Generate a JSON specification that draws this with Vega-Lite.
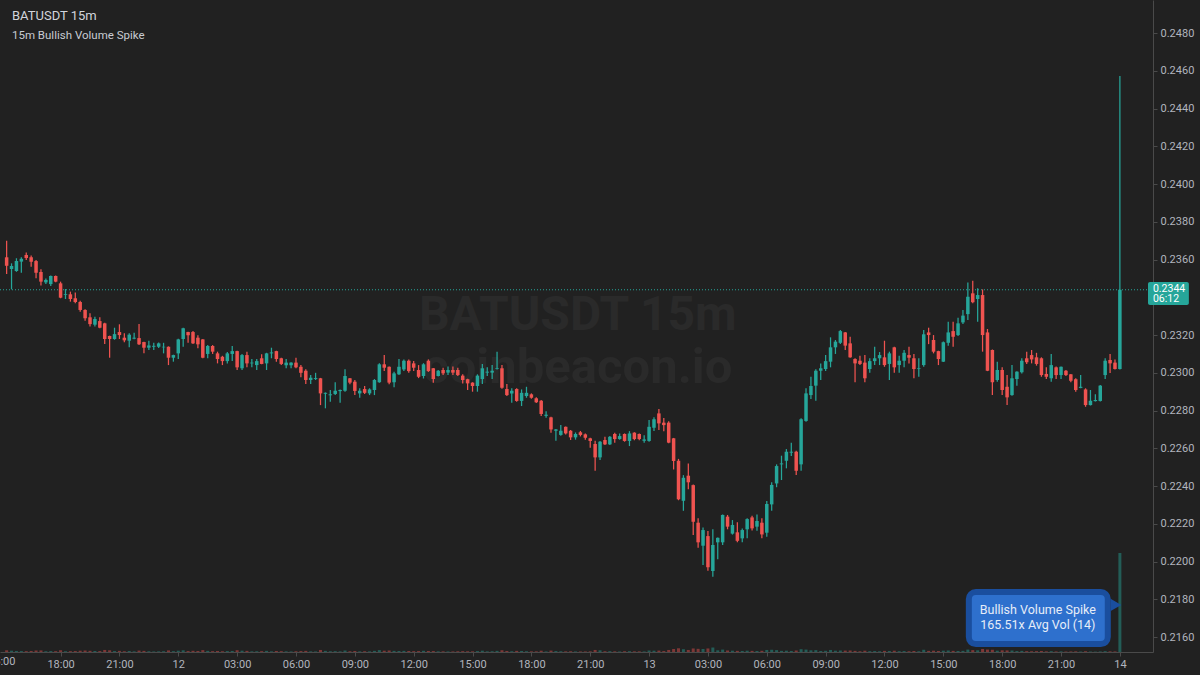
{
"$schema":"https://vega.github.io/schema/vega-lite/v6.json",
"width":1153,"height":652,
"autosize":{"type":"none"},
"padding":{"left":0,"top":0,"right":47,"bottom":23},
"background":"#212121",
"config":{"view":{"stroke":null},"font":"Roboto","axis":{"labelFont":"Roboto","labelColor":"#b2b5be","labelFontSize":11,"domainColor":"#4a4a4a","tickColor":"#4a4a4a","grid":false}},
"datasets":{"k":[
{"t":"2024-03-11T15:15Z","o":0.23612,"h":0.23700,"l":0.23523,"c":0.23567,"v":90},
{"t":"2024-03-11T15:30Z","o":0.23550,"h":0.23580,"l":0.23442,"c":0.23566,"v":70},
{"t":"2024-03-11T15:45Z","o":0.23540,"h":0.23607,"l":0.23535,"c":0.23592,"v":60},
{"t":"2024-03-11T16:00Z","o":0.23589,"h":0.23612,"l":0.23530,"c":0.23604,"v":50},
{"t":"2024-03-11T16:15Z","o":0.23624,"h":0.23638,"l":0.23598,"c":0.23608,"v":45},
{"t":"2024-03-11T16:30Z","o":0.23612,"h":0.23622,"l":0.23562,"c":0.23589,"v":55},
{"t":"2024-03-11T16:45Z","o":0.23592,"h":0.23598,"l":0.23501,"c":0.23530,"v":80},
{"t":"2024-03-11T17:00Z","o":0.23534,"h":0.23548,"l":0.23462,"c":0.23483,"v":85},
{"t":"2024-03-11T17:15Z","o":0.23479,"h":0.23499,"l":0.23470,"c":0.23492,"v":40},
{"t":"2024-03-11T17:30Z","o":0.23470,"h":0.23515,"l":0.23460,"c":0.23513,"v":50},
{"t":"2024-03-11T17:45Z","o":0.23513,"h":0.23515,"l":0.23480,"c":0.23483,"v":45},
{"t":"2024-03-11T18:00Z","o":0.23474,"h":0.23483,"l":0.23395,"c":0.23398,"v":95},
{"t":"2024-03-11T18:15Z","o":0.23413,"h":0.23444,"l":0.23391,"c":0.23417,"v":40},
{"t":"2024-03-11T18:30Z","o":0.23416,"h":0.23430,"l":0.23377,"c":0.23391,"v":45},
{"t":"2024-03-11T18:45Z","o":0.23395,"h":0.23426,"l":0.23368,"c":0.23375,"v":50},
{"t":"2024-03-11T19:00Z","o":0.23375,"h":0.23382,"l":0.23324,"c":0.23333,"v":70},
{"t":"2024-03-11T19:15Z","o":0.23333,"h":0.23337,"l":0.23276,"c":0.23289,"v":80},
{"t":"2024-03-11T19:30Z","o":0.23294,"h":0.23315,"l":0.23245,"c":0.23258,"v":65},
{"t":"2024-03-11T19:45Z","o":0.23255,"h":0.23297,"l":0.23245,"c":0.23285,"v":55},
{"t":"2024-03-11T20:00Z","o":0.23274,"h":0.23294,"l":0.23236,"c":0.23239,"v":50},
{"t":"2024-03-11T20:15Z","o":0.23262,"h":0.23265,"l":0.23152,"c":0.23179,"v":110},
{"t":"2024-03-11T20:30Z","o":0.23195,"h":0.23197,"l":0.23080,"c":0.23179,"v":90},
{"t":"2024-03-11T20:45Z","o":0.23179,"h":0.23239,"l":0.23175,"c":0.23205,"v":50},
{"t":"2024-03-11T21:00Z","o":0.23216,"h":0.23257,"l":0.23179,"c":0.23200,"v":60},
{"t":"2024-03-11T21:15Z","o":0.23186,"h":0.23209,"l":0.23162,"c":0.23172,"v":40},
{"t":"2024-03-11T21:30Z","o":0.23170,"h":0.23209,"l":0.23135,"c":0.23202,"v":55},
{"t":"2024-03-11T21:45Z","o":0.23181,"h":0.23212,"l":0.23178,"c":0.23186,"v":35},
{"t":"2024-03-11T22:00Z","o":0.23184,"h":0.23259,"l":0.23147,"c":0.23151,"v":75},
{"t":"2024-03-11T22:15Z","o":0.23163,"h":0.23165,"l":0.23103,"c":0.23133,"v":60},
{"t":"2024-03-11T22:30Z","o":0.23133,"h":0.23170,"l":0.23121,"c":0.23145,"v":40},
{"t":"2024-03-11T22:45Z","o":0.23138,"h":0.23159,"l":0.23121,"c":0.23143,"v":30},
{"t":"2024-03-11T23:00Z","o":0.23138,"h":0.23161,"l":0.23131,"c":0.23156,"v":35},
{"t":"2024-03-11T23:15Z","o":0.23135,"h":0.23159,"l":0.23103,"c":0.23138,"v":40},
{"t":"2024-03-11T23:30Z","o":0.23138,"h":0.23140,"l":0.23041,"c":0.23080,"v":85},
{"t":"2024-03-11T23:45Z","o":0.23080,"h":0.23096,"l":0.23059,"c":0.23094,"v":45},
{"t":"2024-03-12T00:00Z","o":0.23103,"h":0.23180,"l":0.23073,"c":0.23177,"v":70},
{"t":"2024-03-12T00:15Z","o":0.23179,"h":0.23239,"l":0.23138,"c":0.23236,"v":90},
{"t":"2024-03-12T00:30Z","o":0.23216,"h":0.23218,"l":0.23159,"c":0.23199,"v":50},
{"t":"2024-03-12T00:45Z","o":0.23216,"h":0.23221,"l":0.23152,"c":0.23156,"v":65},
{"t":"2024-03-12T01:00Z","o":0.23186,"h":0.23199,"l":0.23130,"c":0.23151,"v":55},
{"t":"2024-03-12T01:15Z","o":0.23177,"h":0.23179,"l":0.23077,"c":0.23080,"v":100},
{"t":"2024-03-12T01:30Z","o":0.23100,"h":0.23147,"l":0.23077,"c":0.23142,"v":60},
{"t":"2024-03-12T01:45Z","o":0.23142,"h":0.23147,"l":0.23100,"c":0.23112,"v":45},
{"t":"2024-03-12T02:00Z","o":0.23103,"h":0.23112,"l":0.23050,"c":0.23073,"v":55},
{"t":"2024-03-12T02:15Z","o":0.23085,"h":0.23090,"l":0.23041,"c":0.23062,"v":40},
{"t":"2024-03-12T02:30Z","o":0.23062,"h":0.23110,"l":0.23050,"c":0.23103,"v":50},
{"t":"2024-03-12T02:45Z","o":0.23100,"h":0.23142,"l":0.23062,"c":0.23115,"v":55},
{"t":"2024-03-12T03:00Z","o":0.23115,"h":0.23117,"l":0.23015,"c":0.23029,"v":95},
{"t":"2024-03-12T03:15Z","o":0.23024,"h":0.23100,"l":0.23015,"c":0.23094,"v":70},
{"t":"2024-03-12T03:30Z","o":0.23094,"h":0.23112,"l":0.23029,"c":0.23050,"v":60},
{"t":"2024-03-12T03:45Z","o":0.23050,"h":0.23073,"l":0.23029,"c":0.23054,"v":35},
{"t":"2024-03-12T04:00Z","o":0.23041,"h":0.23073,"l":0.23015,"c":0.23062,"v":40},
{"t":"2024-03-12T04:15Z","o":0.23077,"h":0.23098,"l":0.23045,"c":0.23047,"v":45},
{"t":"2024-03-12T04:30Z","o":0.23050,"h":0.23106,"l":0.23015,"c":0.23103,"v":60},
{"t":"2024-03-12T04:45Z","o":0.23103,"h":0.23133,"l":0.23077,"c":0.23108,"v":35},
{"t":"2024-03-12T05:00Z","o":0.23115,"h":0.23117,"l":0.23059,"c":0.23073,"v":55},
{"t":"2024-03-12T05:15Z","o":0.23077,"h":0.23080,"l":0.23041,"c":0.23047,"v":45},
{"t":"2024-03-12T05:30Z","o":0.23040,"h":0.23073,"l":0.23024,"c":0.23054,"v":35},
{"t":"2024-03-12T05:45Z","o":0.23040,"h":0.23056,"l":0.23024,"c":0.23054,"v":30},
{"t":"2024-03-12T06:00Z","o":0.23054,"h":0.23080,"l":0.23024,"c":0.23029,"v":40},
{"t":"2024-03-12T06:15Z","o":0.23032,"h":0.23041,"l":0.22976,"c":0.23000,"v":50},
{"t":"2024-03-12T06:30Z","o":0.23011,"h":0.23019,"l":0.22941,"c":0.22962,"v":60},
{"t":"2024-03-12T06:45Z","o":0.22962,"h":0.22988,"l":0.22941,"c":0.22974,"v":35},
{"t":"2024-03-12T07:00Z","o":0.22967,"h":0.23000,"l":0.22962,"c":0.22972,"v":30},
{"t":"2024-03-12T07:15Z","o":0.22971,"h":0.22973,"l":0.22829,"c":0.22891,"v":110},
{"t":"2024-03-12T07:30Z","o":0.22889,"h":0.22896,"l":0.22812,"c":0.22894,"v":60},
{"t":"2024-03-12T07:45Z","o":0.22881,"h":0.22909,"l":0.22847,"c":0.22886,"v":40},
{"t":"2024-03-12T08:00Z","o":0.22888,"h":0.22950,"l":0.22882,"c":0.22905,"v":45},
{"t":"2024-03-12T08:15Z","o":0.22903,"h":0.22911,"l":0.22842,"c":0.22909,"v":35},
{"t":"2024-03-12T08:30Z","o":0.22905,"h":0.23019,"l":0.22900,"c":0.22983,"v":80},
{"t":"2024-03-12T08:45Z","o":0.22971,"h":0.22973,"l":0.22940,"c":0.22948,"v":40},
{"t":"2024-03-12T09:00Z","o":0.22953,"h":0.22962,"l":0.22882,"c":0.22904,"v":55},
{"t":"2024-03-12T09:15Z","o":0.22891,"h":0.22918,"l":0.22868,"c":0.22905,"v":35},
{"t":"2024-03-12T09:30Z","o":0.22914,"h":0.22930,"l":0.22888,"c":0.22894,"v":40},
{"t":"2024-03-12T09:45Z","o":0.22891,"h":0.22918,"l":0.22882,"c":0.22912,"v":35},
{"t":"2024-03-12T10:00Z","o":0.22909,"h":0.22967,"l":0.22882,"c":0.22962,"v":60},
{"t":"2024-03-12T10:15Z","o":0.22950,"h":0.23051,"l":0.22947,"c":0.23045,"v":100},
{"t":"2024-03-12T10:30Z","o":0.23045,"h":0.23094,"l":0.23009,"c":0.23027,"v":70},
{"t":"2024-03-12T10:45Z","o":0.23032,"h":0.23034,"l":0.22940,"c":0.22948,"v":80},
{"t":"2024-03-12T11:00Z","o":0.22950,"h":0.23006,"l":0.22923,"c":0.22997,"v":60},
{"t":"2024-03-12T11:15Z","o":0.22992,"h":0.23073,"l":0.22988,"c":0.23032,"v":55},
{"t":"2024-03-12T11:30Z","o":0.23018,"h":0.23070,"l":0.23009,"c":0.23064,"v":60},
{"t":"2024-03-12T11:45Z","o":0.23064,"h":0.23071,"l":0.23000,"c":0.23009,"v":55},
{"t":"2024-03-12T12:00Z","o":0.23050,"h":0.23062,"l":0.23009,"c":0.23027,"v":45},
{"t":"2024-03-12T12:15Z","o":0.23015,"h":0.23041,"l":0.22972,"c":0.22979,"v":50},
{"t":"2024-03-12T12:30Z","o":0.22983,"h":0.23051,"l":0.22970,"c":0.23045,"v":65},
{"t":"2024-03-12T12:45Z","o":0.23064,"h":0.23071,"l":0.23005,"c":0.23009,"v":55},
{"t":"2024-03-12T13:00Z","o":0.23024,"h":0.23026,"l":0.22948,"c":0.22967,"v":50},
{"t":"2024-03-12T13:15Z","o":0.22983,"h":0.23015,"l":0.22980,"c":0.23011,"v":35},
{"t":"2024-03-12T13:30Z","o":0.23015,"h":0.23027,"l":0.22988,"c":0.22997,"v":35},
{"t":"2024-03-12T13:45Z","o":0.23001,"h":0.23033,"l":0.22988,"c":0.23015,"v":30},
{"t":"2024-03-12T14:00Z","o":0.23015,"h":0.23033,"l":0.22988,"c":0.23001,"v":30},
{"t":"2024-03-12T14:15Z","o":0.23015,"h":0.23027,"l":0.22983,"c":0.22988,"v":40},
{"t":"2024-03-12T14:30Z","o":0.22985,"h":0.22992,"l":0.22944,"c":0.22962,"v":45},
{"t":"2024-03-12T14:45Z","o":0.22966,"h":0.22968,"l":0.22909,"c":0.22944,"v":40},
{"t":"2024-03-12T15:00Z","o":0.22948,"h":0.22950,"l":0.22900,"c":0.22930,"v":35},
{"t":"2024-03-12T15:15Z","o":0.22930,"h":0.22992,"l":0.22900,"c":0.22985,"v":50},
{"t":"2024-03-12T15:30Z","o":0.22967,"h":0.23047,"l":0.22941,"c":0.23024,"v":70},
{"t":"2024-03-12T15:45Z","o":0.23001,"h":0.23030,"l":0.22983,"c":0.23006,"v":35},
{"t":"2024-03-12T16:00Z","o":0.23001,"h":0.23041,"l":0.22967,"c":0.23011,"v":40},
{"t":"2024-03-12T16:15Z","o":0.23020,"h":0.23112,"l":0.23018,"c":0.23024,"v":60},
{"t":"2024-03-12T16:30Z","o":0.23024,"h":0.23041,"l":0.22915,"c":0.22921,"v":95},
{"t":"2024-03-12T16:45Z","o":0.22914,"h":0.22941,"l":0.22877,"c":0.22882,"v":55},
{"t":"2024-03-12T17:00Z","o":0.22891,"h":0.22918,"l":0.22842,"c":0.22905,"v":45},
{"t":"2024-03-12T17:15Z","o":0.22914,"h":0.22918,"l":0.22847,"c":0.22851,"v":60},
{"t":"2024-03-12T17:30Z","o":0.22851,"h":0.22912,"l":0.22824,"c":0.22894,"v":55},
{"t":"2024-03-12T17:45Z","o":0.22877,"h":0.22926,"l":0.22868,"c":0.22894,"v":40},
{"t":"2024-03-12T18:00Z","o":0.22886,"h":0.22891,"l":0.22863,"c":0.22868,"v":35},
{"t":"2024-03-12T18:15Z","o":0.22865,"h":0.22870,"l":0.22840,"c":0.22844,"v":35},
{"t":"2024-03-12T18:30Z","o":0.22852,"h":0.22856,"l":0.22771,"c":0.22782,"v":70},
{"t":"2024-03-12T18:45Z","o":0.22772,"h":0.22796,"l":0.22762,"c":0.22778,"v":30},
{"t":"2024-03-12T19:00Z","o":0.22764,"h":0.22767,"l":0.22683,"c":0.22700,"v":75},
{"t":"2024-03-12T19:15Z","o":0.22693,"h":0.22702,"l":0.22640,"c":0.22700,"v":50},
{"t":"2024-03-12T19:30Z","o":0.22671,"h":0.22723,"l":0.22667,"c":0.22693,"v":40},
{"t":"2024-03-12T19:45Z","o":0.22714,"h":0.22716,"l":0.22673,"c":0.22679,"v":35},
{"t":"2024-03-12T20:00Z","o":0.22693,"h":0.22697,"l":0.22644,"c":0.22658,"v":40},
{"t":"2024-03-12T20:15Z","o":0.22658,"h":0.22684,"l":0.22646,"c":0.22676,"v":30},
{"t":"2024-03-12T20:30Z","o":0.22685,"h":0.22692,"l":0.22663,"c":0.22671,"v":30},
{"t":"2024-03-12T20:45Z","o":0.22674,"h":0.22679,"l":0.22646,"c":0.22656,"v":30},
{"t":"2024-03-12T21:00Z","o":0.22653,"h":0.22656,"l":0.22603,"c":0.22639,"v":35},
{"t":"2024-03-12T21:15Z","o":0.22623,"h":0.22640,"l":0.22481,"c":0.22552,"v":110},
{"t":"2024-03-12T21:30Z","o":0.22552,"h":0.22639,"l":0.22538,"c":0.22635,"v":90},
{"t":"2024-03-12T21:45Z","o":0.22644,"h":0.22661,"l":0.22617,"c":0.22621,"v":40},
{"t":"2024-03-12T22:00Z","o":0.22621,"h":0.22665,"l":0.22617,"c":0.22661,"v":45},
{"t":"2024-03-12T22:15Z","o":0.22676,"h":0.22683,"l":0.22630,"c":0.22649,"v":35},
{"t":"2024-03-12T22:30Z","o":0.22649,"h":0.22679,"l":0.22646,"c":0.22665,"v":30},
{"t":"2024-03-12T22:45Z","o":0.22676,"h":0.22679,"l":0.22635,"c":0.22639,"v":40},
{"t":"2024-03-12T23:00Z","o":0.22639,"h":0.22691,"l":0.22612,"c":0.22679,"v":45},
{"t":"2024-03-12T23:15Z","o":0.22683,"h":0.22685,"l":0.22643,"c":0.22649,"v":35},
{"t":"2024-03-12T23:30Z","o":0.22676,"h":0.22679,"l":0.22643,"c":0.22649,"v":35},
{"t":"2024-03-12T23:45Z","o":0.22640,"h":0.22669,"l":0.22630,"c":0.22647,"v":30},
{"t":"2024-03-13T00:00Z","o":0.22639,"h":0.22750,"l":0.22635,"c":0.22714,"v":80},
{"t":"2024-03-13T00:15Z","o":0.22709,"h":0.22764,"l":0.22692,"c":0.22754,"v":70},
{"t":"2024-03-13T00:30Z","o":0.22785,"h":0.22808,"l":0.22697,"c":0.22732,"v":75},
{"t":"2024-03-13T00:45Z","o":0.22736,"h":0.22760,"l":0.22690,"c":0.22723,"v":50},
{"t":"2024-03-13T01:00Z","o":0.22736,"h":0.22743,"l":0.22627,"c":0.22630,"v":110},
{"t":"2024-03-13T01:15Z","o":0.22653,"h":0.22655,"l":0.22488,"c":0.22533,"v":160},
{"t":"2024-03-13T01:30Z","o":0.22534,"h":0.22544,"l":0.22325,"c":0.22330,"v":200},
{"t":"2024-03-13T01:45Z","o":0.22322,"h":0.22458,"l":0.22269,"c":0.22444,"v":150},
{"t":"2024-03-13T02:00Z","o":0.22455,"h":0.22520,"l":0.22383,"c":0.22420,"v":110},
{"t":"2024-03-13T02:15Z","o":0.22405,"h":0.22409,"l":0.22141,"c":0.22211,"v":190},
{"t":"2024-03-13T02:30Z","o":0.22206,"h":0.22229,"l":0.22073,"c":0.22102,"v":170},
{"t":"2024-03-13T02:45Z","o":0.22084,"h":0.22181,"l":0.21982,"c":0.22167,"v":160},
{"t":"2024-03-13T03:00Z","o":0.22135,"h":0.22162,"l":0.21951,"c":0.21970,"v":190},
{"t":"2024-03-13T03:15Z","o":0.21950,"h":0.22171,"l":0.21920,"c":0.22088,"v":240},
{"t":"2024-03-13T03:30Z","o":0.22102,"h":0.22128,"l":0.22012,"c":0.22126,"v":90},
{"t":"2024-03-13T03:45Z","o":0.22102,"h":0.22249,"l":0.22088,"c":0.22247,"v":130},
{"t":"2024-03-13T04:00Z","o":0.22238,"h":0.22247,"l":0.22171,"c":0.22185,"v":80},
{"t":"2024-03-13T04:15Z","o":0.22148,"h":0.22220,"l":0.22143,"c":0.22194,"v":70},
{"t":"2024-03-13T04:30Z","o":0.22155,"h":0.22208,"l":0.22102,"c":0.22110,"v":60},
{"t":"2024-03-13T04:45Z","o":0.22123,"h":0.22175,"l":0.22102,"c":0.22167,"v":55},
{"t":"2024-03-13T05:00Z","o":0.22171,"h":0.22229,"l":0.22123,"c":0.22225,"v":70},
{"t":"2024-03-13T05:15Z","o":0.22234,"h":0.22243,"l":0.22164,"c":0.22176,"v":60},
{"t":"2024-03-13T05:30Z","o":0.22185,"h":0.22250,"l":0.22163,"c":0.22215,"v":55},
{"t":"2024-03-13T05:45Z","o":0.22206,"h":0.22229,"l":0.22123,"c":0.22144,"v":65},
{"t":"2024-03-13T06:00Z","o":0.22153,"h":0.22321,"l":0.22132,"c":0.22305,"v":110},
{"t":"2024-03-13T06:15Z","o":0.22303,"h":0.22420,"l":0.22269,"c":0.22406,"v":120},
{"t":"2024-03-13T06:30Z","o":0.22414,"h":0.22515,"l":0.22394,"c":0.22506,"v":100},
{"t":"2024-03-13T06:45Z","o":0.22515,"h":0.22561,"l":0.22432,"c":0.22520,"v":60},
{"t":"2024-03-13T07:00Z","o":0.22534,"h":0.22596,"l":0.22494,"c":0.22582,"v":70},
{"t":"2024-03-13T07:15Z","o":0.22577,"h":0.22630,"l":0.22559,"c":0.22582,"v":55},
{"t":"2024-03-13T07:30Z","o":0.22582,"h":0.22587,"l":0.22459,"c":0.22481,"v":80},
{"t":"2024-03-13T07:45Z","o":0.22515,"h":0.22759,"l":0.22481,"c":0.22754,"v":150},
{"t":"2024-03-13T08:00Z","o":0.22745,"h":0.22918,"l":0.22741,"c":0.22891,"v":130},
{"t":"2024-03-13T08:15Z","o":0.22882,"h":0.22979,"l":0.22861,"c":0.22930,"v":90},
{"t":"2024-03-13T08:30Z","o":0.22932,"h":0.23019,"l":0.22852,"c":0.23011,"v":100},
{"t":"2024-03-13T08:45Z","o":0.23011,"h":0.23050,"l":0.22962,"c":0.23024,"v":55},
{"t":"2024-03-13T09:00Z","o":0.23020,"h":0.23094,"l":0.23009,"c":0.23062,"v":65},
{"t":"2024-03-13T09:15Z","o":0.23059,"h":0.23188,"l":0.23029,"c":0.23135,"v":110},
{"t":"2024-03-13T09:30Z","o":0.23135,"h":0.23174,"l":0.23100,"c":0.23165,"v":70},
{"t":"2024-03-13T09:45Z","o":0.23159,"h":0.23227,"l":0.23152,"c":0.23221,"v":80},
{"t":"2024-03-13T10:00Z","o":0.23214,"h":0.23216,"l":0.23121,"c":0.23144,"v":75},
{"t":"2024-03-13T10:15Z","o":0.23156,"h":0.23191,"l":0.23080,"c":0.23082,"v":80},
{"t":"2024-03-13T10:30Z","o":0.23073,"h":0.23077,"l":0.22950,"c":0.23050,"v":60},
{"t":"2024-03-13T10:45Z","o":0.23064,"h":0.23091,"l":0.23041,"c":0.23047,"v":40},
{"t":"2024-03-13T11:00Z","o":0.23054,"h":0.23094,"l":0.22950,"c":0.22971,"v":70},
{"t":"2024-03-13T11:15Z","o":0.23020,"h":0.23077,"l":0.23000,"c":0.23062,"v":45},
{"t":"2024-03-13T11:30Z","o":0.23062,"h":0.23138,"l":0.23041,"c":0.23077,"v":50},
{"t":"2024-03-13T11:45Z","o":0.23077,"h":0.23110,"l":0.23041,"c":0.23094,"v":40},
{"t":"2024-03-13T12:00Z","o":0.23082,"h":0.23170,"l":0.23032,"c":0.23041,"v":60},
{"t":"2024-03-13T12:15Z","o":0.23047,"h":0.23112,"l":0.22962,"c":0.23103,"v":55},
{"t":"2024-03-13T12:30Z","o":0.23135,"h":0.23138,"l":0.23001,"c":0.23029,"v":70},
{"t":"2024-03-13T12:45Z","o":0.23041,"h":0.23091,"l":0.23001,"c":0.23064,"v":45},
{"t":"2024-03-13T13:00Z","o":0.23064,"h":0.23121,"l":0.23029,"c":0.23106,"v":50},
{"t":"2024-03-13T13:15Z","o":0.23094,"h":0.23138,"l":0.23050,"c":0.23080,"v":40},
{"t":"2024-03-13T13:30Z","o":0.23077,"h":0.23100,"l":0.22971,"c":0.23020,"v":55},
{"t":"2024-03-13T13:45Z","o":0.23020,"h":0.23077,"l":0.22979,"c":0.23024,"v":40},
{"t":"2024-03-13T14:00Z","o":0.23041,"h":0.23227,"l":0.23032,"c":0.23204,"v":120},
{"t":"2024-03-13T14:15Z","o":0.23214,"h":0.23239,"l":0.23152,"c":0.23200,"v":60},
{"t":"2024-03-13T14:30Z","o":0.23174,"h":0.23200,"l":0.23103,"c":0.23112,"v":70},
{"t":"2024-03-13T14:45Z","o":0.23115,"h":0.23117,"l":0.23041,"c":0.23073,"v":55},
{"t":"2024-03-13T15:00Z","o":0.23059,"h":0.23166,"l":0.23057,"c":0.23162,"v":70},
{"t":"2024-03-13T15:15Z","o":0.23159,"h":0.23271,"l":0.23144,"c":0.23214,"v":80},
{"t":"2024-03-13T15:30Z","o":0.23221,"h":0.23271,"l":0.23138,"c":0.23191,"v":60},
{"t":"2024-03-13T15:45Z","o":0.23200,"h":0.23292,"l":0.23195,"c":0.23262,"v":55},
{"t":"2024-03-13T16:00Z","o":0.23267,"h":0.23333,"l":0.23259,"c":0.23303,"v":60},
{"t":"2024-03-13T16:15Z","o":0.23311,"h":0.23479,"l":0.23280,"c":0.23403,"v":130},
{"t":"2024-03-13T16:30Z","o":0.23421,"h":0.23488,"l":0.23368,"c":0.23374,"v":100},
{"t":"2024-03-13T16:45Z","o":0.23391,"h":0.23448,"l":0.23271,"c":0.23412,"v":90},
{"t":"2024-03-13T17:00Z","o":0.23412,"h":0.23442,"l":0.23112,"c":0.23200,"v":160},
{"t":"2024-03-13T17:15Z","o":0.23214,"h":0.23232,"l":0.23009,"c":0.23011,"v":130},
{"t":"2024-03-13T17:30Z","o":0.23121,"h":0.23123,"l":0.22882,"c":0.22950,"v":120},
{"t":"2024-03-13T17:45Z","o":0.22962,"h":0.23059,"l":0.22953,"c":0.23015,"v":70},
{"t":"2024-03-13T18:00Z","o":0.23015,"h":0.23029,"l":0.22882,"c":0.22909,"v":90},
{"t":"2024-03-13T18:15Z","o":0.22926,"h":0.22988,"l":0.22829,"c":0.22870,"v":85},
{"t":"2024-03-13T18:30Z","o":0.22882,"h":0.23041,"l":0.22879,"c":0.22971,"v":80},
{"t":"2024-03-13T18:45Z","o":0.22967,"h":0.23008,"l":0.22932,"c":0.23006,"v":50},
{"t":"2024-03-13T19:00Z","o":0.23003,"h":0.23077,"l":0.22997,"c":0.23064,"v":60},
{"t":"2024-03-13T19:15Z","o":0.23077,"h":0.23112,"l":0.23047,"c":0.23056,"v":45},
{"t":"2024-03-13T19:30Z","o":0.23094,"h":0.23121,"l":0.23050,"c":0.23071,"v":40},
{"t":"2024-03-13T19:45Z","o":0.23082,"h":0.23106,"l":0.23038,"c":0.23047,"v":45},
{"t":"2024-03-13T20:00Z","o":0.23077,"h":0.23082,"l":0.22979,"c":0.22988,"v":55},
{"t":"2024-03-13T20:15Z","o":0.22994,"h":0.23029,"l":0.22967,"c":0.22979,"v":35},
{"t":"2024-03-13T20:30Z","o":0.22971,"h":0.23100,"l":0.22953,"c":0.23041,"v":45},
{"t":"2024-03-13T20:45Z","o":0.23029,"h":0.23033,"l":0.22967,"c":0.22988,"v":30},
{"t":"2024-03-13T21:00Z","o":0.22988,"h":0.23034,"l":0.22967,"c":0.23032,"v":35},
{"t":"2024-03-13T21:15Z","o":0.23011,"h":0.23015,"l":0.22983,"c":0.22988,"v":25},
{"t":"2024-03-13T21:30Z","o":0.22992,"h":0.22994,"l":0.22950,"c":0.22958,"v":30},
{"t":"2024-03-13T21:45Z","o":0.22966,"h":0.22971,"l":0.22900,"c":0.22909,"v":35},
{"t":"2024-03-13T22:00Z","o":0.22920,"h":0.22988,"l":0.22918,"c":0.22926,"v":25},
{"t":"2024-03-13T22:15Z","o":0.22912,"h":0.22918,"l":0.22820,"c":0.22829,"v":40},
{"t":"2024-03-13T22:30Z","o":0.22829,"h":0.22909,"l":0.22827,"c":0.22852,"v":25},
{"t":"2024-03-13T22:45Z","o":0.22850,"h":0.22886,"l":0.22848,"c":0.22856,"v":20},
{"t":"2024-03-13T23:00Z","o":0.22851,"h":0.22936,"l":0.22848,"c":0.22932,"v":30},
{"t":"2024-03-13T23:15Z","o":0.22988,"h":0.23077,"l":0.22967,"c":0.23064,"v":45},
{"t":"2024-03-13T23:30Z","o":0.23068,"h":0.23100,"l":0.22999,"c":0.23050,"v":35},
{"t":"2024-03-13T23:45Z","o":0.23054,"h":0.23071,"l":0.23018,"c":0.23020,"v":30},
{"t":"2024-03-14T00:00Z","o":0.23020,"h":0.24572,"l":0.23018,"c":0.23440,"v":5314}
]},
"layer":[
{"data":{"name":"k"},
 "mark":{"type":"bar","size":3,"opacity":0.45},
 "encoding":{
  "x":{"field":"t","type":"temporal","title":null,"scale":{"type":"utc","domain":[1710169800000,1710379560000]},
   "axis":{"values":[1710180000000,1710190800000,1710201600000,1710212400000,1710223200000,1710234000000,1710244800000,1710255600000,1710266400000,1710277200000,1710288000000,1710298800000,1710309600000,1710320400000,1710331200000,1710342000000,1710352800000,1710363600000,1710374400000],"labelExpr":"utchours(datum.value)==0 ? utcFormat(datum.value,'%-d') : utcFormat(datum.value,'%H:%M')","tickSize":4,"labelPadding":2,"labelFlush":false,"labelOverlap":false}},
  "y":{"field":"v","type":"quantitative","scale":{"domain":[0,35000],"nice":false},"axis":null},
  "color":{"condition":{"test":"datum.c>=datum.o","value":"#26a69a"},"value":"#ef5350"}}},
{"layer":[
 {"data":{"values":[{}]},"mark":{"type":"text","text":"BATUSDT 15m","fontSize":48,"fontWeight":"bold","color":"#2a2a2a","align":"center","baseline":"alphabetic"},
  "encoding":{"x":{"datum":1710274920000,"type":"temporal"},"y":{"datum":0.23227,"type":"quantitative"}}},
 {"data":{"values":[{}]},"mark":{"type":"text","text":"coinbeacon.io","fontSize":49,"fontWeight":"bold","color":"#2a2a2a","align":"center","baseline":"alphabetic"},
  "encoding":{"x":{"datum":1710274920000,"type":"temporal"},"y":{"datum":0.22946,"type":"quantitative"}}},
 {"data":{"values":[{}]},"mark":{"type":"rule","color":"#26a69a","strokeDash":[1,2],"strokeWidth":1},
  "encoding":{"y":{"datum":0.2344,"type":"quantitative"}}},
 {"data":{"name":"k"},"mark":{"type":"rule","strokeWidth":1.25},
  "encoding":{
   "x":{"field":"t","type":"temporal"},
   "y":{"field":"l","type":"quantitative","title":null,"scale":{"domain":[0.21521,0.24975],"nice":false,"zero":false},
    "axis":{"orient":"right","values":[0.216,0.218,0.22,0.222,0.224,0.226,0.228,0.23,0.232,0.236,0.238,0.24,0.242,0.244,0.246,0.248],"format":".4f","tickSize":4,"labelPadding":3}},
   "y2":{"field":"h"},
   "color":{"condition":{"test":"datum.c>=datum.o","value":"#26a69a"},"value":"#ef5350"}}},
 {"data":{"name":"k"},"mark":{"type":"bar","size":3.5},
  "encoding":{
   "x":{"field":"t","type":"temporal"},
   "y":{"field":"o","type":"quantitative"},
   "y2":{"field":"c"},
   "color":{"condition":{"test":"datum.c>=datum.o","value":"#26a69a"},"value":"#ef5350"}}},
 {"data":{"values":[{}]},"mark":{"type":"rect","color":"#26a69a","cornerRadius":2},
  "encoding":{"x":{"datum":1710379560000,"type":"temporal"},"x2":{"datum":1710387060000},
   "y":{"datum":0.23481,"type":"quantitative"},"y2":{"datum":0.23359}}},
 {"data":{"values":[{}]},"mark":{"type":"text","text":"0.2344","fontSize":10.5,"color":"#ffffff","align":"left","baseline":"middle"},
  "encoding":{"x":{"datum":1710380460000,"type":"temporal"},"y":{"datum":0.23444,"type":"quantitative"}}},
 {"data":{"values":[{}]},"mark":{"type":"text","text":"06:12","fontSize":10.5,"color":"#ffffff","align":"left","baseline":"middle"},
  "encoding":{"x":{"datum":1710380460000,"type":"temporal"},"y":{"datum":0.23389,"type":"quantitative"}}},
 {"data":{"values":[{}]},"mark":{"type":"point","shape":"triangle-right","filled":true,"color":"#1a4e9e","opacity":1,"size":150},
  "encoding":{"x":{"datum":1710373680000,"type":"temporal"},"y":{"datum":0.2177,"type":"quantitative"}}},
 {"data":{"values":[{}]},"mark":{"type":"rect","fill":"#2e70cd","stroke":"#1a4e9e","strokeWidth":6,"cornerRadius":7},
  "encoding":{"x":{"datum":1710346680000,"type":"temporal"},"x2":{"datum":1710372180000},
   "y":{"datum":0.21839,"type":"quantitative"},"y2":{"datum":0.21563}}},
 {"data":{"values":[{}]},"mark":{"type":"text","text":"Bullish Volume Spike","fontSize":12.5,"color":"#e6edf8","align":"center","baseline":"middle"},
  "encoding":{"x":{"datum":1710359340000,"type":"temporal"},"y":{"datum":0.21743,"type":"quantitative"}}},
 {"data":{"values":[{}]},"mark":{"type":"text","text":"165.51x Avg Vol (14)","fontSize":12.5,"color":"#e6edf8","align":"center","baseline":"middle"},
  "encoding":{"x":{"datum":1710359340000,"type":"temporal"},"y":{"datum":0.21664,"type":"quantitative"}}},
 {"data":{"values":[{}]},"mark":{"type":"text","text":"BATUSDT 15m","fontSize":13,"color":"#d1d4dc","align":"left","baseline":"alphabetic","dx":7},
  "encoding":{"x":{"datum":1710169800000,"type":"temporal"},"y":{"datum":0.24869,"type":"quantitative"}}},
 {"data":{"values":[{}]},"mark":{"type":"text","text":"15m Bullish Volume Spike","fontSize":11.5,"color":"#c8cbd2","align":"left","baseline":"alphabetic","dx":7},
  "encoding":{"x":{"datum":1710169800000,"type":"temporal"},"y":{"datum":0.24766,"type":"quantitative"}}},
 {"data":{"values":[{}]},"mark":{"type":"text","text":"15:00","fontSize":11,"color":"#b2b5be","align":"center","baseline":"middle"},
  "encoding":{"x":{"datum":1710169200000,"type":"temporal"},"y":{"datum":0.2147,"type":"quantitative"}}}
]}
],
"resolve":{"scale":{"y":"independent"}}
}
